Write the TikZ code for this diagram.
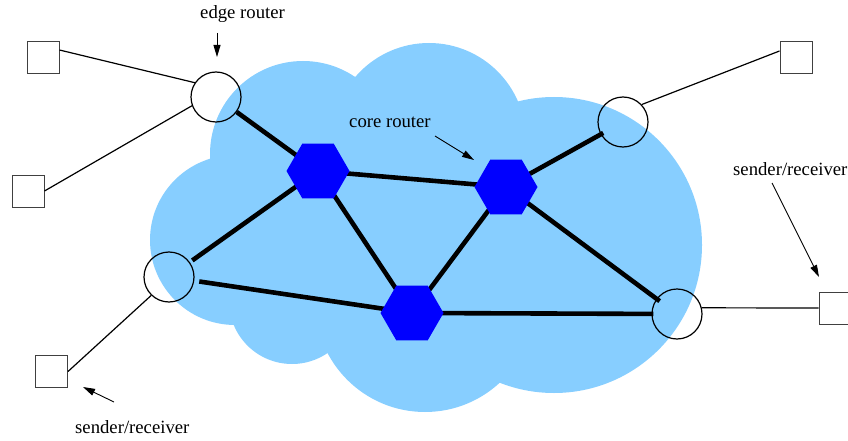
\documentclass[tikz,border=0pt]{standalone}
\usepackage{fontspec}
\setmainfont{Liberation Serif}
\usetikzlibrary{shapes.geometric,arrows.meta}
\definecolor{cloudblue}{RGB}{135,206,255}
\pgfdeclarelayer{cloudlayer}
\pgfdeclarelayer{linklayer}
\pgfsetlayers{cloudlayer,linklayer,main}
\begin{document}
\begin{tikzpicture}[x=1pt,y=-1pt,
  core/.style={regular polygon, regular polygon sides=6, minimum size=63pt, inner sep=0pt, fill=blue, draw=none},
  edgert/.style={circle, minimum size=50pt, inner sep=0pt, draw=black, line width=1.2pt},
  host/.style={rectangle, minimum size=32pt, inner sep=0pt, draw=black!75, line width=1pt},
  biglink/.style={line width=4.6pt},
  thinlink/.style={line width=1.2pt},
  lbl/.style={font=\fontsize{18.7pt}{22pt}\selectfont, inner sep=0pt, anchor=base west},
  pointer/.style={line width=0.9pt, -{Triangle[length=12pt,width=7pt]}}
]
\useasboundingbox (0,0) rectangle (848,441);

% cloud
\begin{pgfonlayer}{cloudlayer}
  \fill[cloudblue] (235,240) circle[radius=85pt]
                   (303,154) circle[radius=93pt]
                   (429,140) circle[radius=97pt]
                   (554,245) circle[radius=148pt]
                   (425,302) circle[radius=110pt]
                   (292,301) circle[radius=63pt]
                   (400,230) circle[radius=120pt];
\end{pgfonlayer}

% core routers
\node[core] (cL) at (318,171) {};
\node[core] (cR) at (506,187) {};
\node[core] (cB) at (412,313) {};

% edge routers
\node[edgert] (eTL) at (216,97) {};
\node[edgert] (eTR) at (623,122) {};
\node[edgert] (eL) at (169,277) {};
\node[edgert] (eR) at (677,314) {};

% hosts
\node[host] (h1) at (43,57.5) {};
\node[host] (h2) at (28,191) {};
\node[host] (h3) at (51.5,371.5) {};
\node[host] (h4) at (796,57.5) {};
\node[host] (h5) at (835,308) {};

% core links
\begin{pgfonlayer}{linklayer}
  \draw[biglink] (eTL) -- (cL.center);
  \draw[biglink] (cL.center) -- (cR.center);
  \draw[biglink,shorten <=3pt] (eL) -- (cL.center);
  \draw[biglink] (cL.center) -- (cB.center);
  \draw[biglink] (cR.center) -- (cB.center);
  \draw[biglink,shorten >=-3pt] (cR.center) -- (eTR);
  \draw[biglink,shorten >=-4pt] (cR.center) -- (eR);
  \draw[biglink,shorten <=5pt] (eL) -- (cB.center);
  \draw[biglink,shorten >=-2pt] (cB.center) -- (eR);
\end{pgfonlayer}

% access links
\draw[thinlink] ([yshift=7.5pt]h1.east) -- (eTL.146);
\draw[thinlink] (h2.east) -- (eTL.200);
\draw[thinlink] (h3.east) -- (eL.226);
\draw[thinlink] ([yshift=6.5pt]h4.west) -- (eTR.43);
\draw[thinlink] (eR.14) -- (h5.west);

% labels
\node[lbl] (tEdge) at (200,18.3) {edge router};
\node[lbl] (tCore) at (349,128) {core router};
\node[lbl] (tSR1) at (733,175) {sender/receiver};
\node[lbl] (tSR2) at (75,433) {sender/receiver};

% pointers
\coordinate (p1a) at (217,33);  \coordinate (p1b) at (217,57);
\coordinate (p2a) at (435,136); \coordinate (p2b) at (474,160);
\coordinate (p3a) at (772,183); \coordinate (p3b) at (819,277);
\coordinate (p4a) at (114,402); \coordinate (p4b) at (83,387);
\draw[pointer] (p1a) -- (p1b);
\draw[pointer] (p2a) -- (p2b);
\draw[pointer] (p3a) -- (p3b);
\draw[pointer] (p4a) -- (p4b);
\end{tikzpicture}
\end{document}
